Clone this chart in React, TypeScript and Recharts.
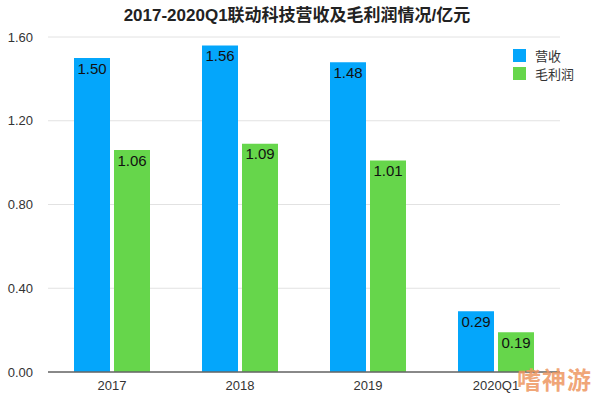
import { BarChart, Bar, XAxis, YAxis, CartesianGrid, LabelList } from "recharts";

const categories = ["2017", "2018", "2019", "2020Q1"];
const revenue = [1.5, 1.56, 1.48, 0.29];
const grossProfit = [1.06, 1.09, 1.01, 0.19];
const yTicks = [0, 0.4, 0.8, 1.2, 1.6];

const data = categories.map((name, i) => ({ name, revenue: revenue[i], profit: grossProfit[i] }));

const FONT = '"Liberation Sans", Arial, "Noto Sans CJK SC", sans-serif';
const BLUE = "#04a6fb";
const GREEN = "#66d64b";

const legendItems = [
  { label: "营收", color: BLUE },
  { label: "毛利润", color: GREEN },
];

function LegendBox() {
  return (
    <div style={{ position: "absolute", left: 513, top: 46, fontFamily: FONT, fontSize: 13, color: "#333" }}>
      {legendItems.map((it) => (
        <div key={it.label} style={{ display: "flex", alignItems: "center", height: 18 }}>
          <span style={{ width: 13, height: 13, background: it.color, display: "inline-block", marginRight: 9 }} />
          <span>{it.label}</span>
        </div>
      ))}
    </div>
  );
}

export default function App() {
  return (
    <div style={{ position: "absolute", left: 0, top: 0, width: 594, height: 397, background: "#fff", fontFamily: FONT }}>
      <div
        style={{
          position: "absolute",
          top: 1,
          left: 0,
          width: 594,
          textAlign: "center",
          fontSize: 17,
          fontWeight: "bold",
          color: "#222",
        }}
      >
        2017-2020Q1联动科技营收及毛利润情况/亿元
      </div>
      <BarChart
        width={594}
        height={397}
        data={data}
        margin={{ top: 37, right: 34, bottom: 0, left: 0 }}
        barCategoryGap={26}
        barGap={4}
      >
        <CartesianGrid vertical={false} stroke="#e2e2e2" />
        <XAxis
          dataKey="name"
          height={25}
          tickLine={false}
          tickSize={0}
          tickMargin={9}
          axisLine={{ stroke: "#666", strokeWidth: 1.5 }}
          tick={{ fill: "#333", fontSize: 13, fontFamily: FONT }}
        />
        <YAxis
          width={48}
          domain={[0, 1.6]}
          ticks={yTicks}
          axisLine={false}
          tickLine={false}
          tickSize={0}
          tickMargin={15}
          tickFormatter={(v: number) => v.toFixed(2)}
          tick={{ fill: "#333", fontSize: 13, fontFamily: FONT }}
        />
        <Bar dataKey="revenue" name="营收" fill={BLUE} isAnimationActive={false}>
          <LabelList
            dataKey="revenue"
            position="insideTop"
            offset={5}
            formatter={(v: number) => v.toFixed(2)}
            style={{ fill: "#111", fontSize: 15, fontFamily: FONT }}
          />
        </Bar>
        <Bar dataKey="profit" name="毛利润" fill={GREEN} isAnimationActive={false}>
          <LabelList
            dataKey="profit"
            position="insideTop"
            offset={5}
            formatter={(v: number) => v.toFixed(2)}
            style={{ fill: "#111", fontSize: 15, fontFamily: FONT }}
          />
        </Bar>
      </BarChart>
      <LegendBox />
      <div
        style={{
          position: "absolute",
          left: 517,
          top: 361,
          fontSize: 24,
          fontWeight: "bold",
          color: "rgba(238,150,95,0.85)",
          fontFamily: '"Noto Sans CJK SC", sans-serif',
          letterSpacing: 1,
        }}
      >
        嗜神游
      </div>
    </div>
  );
}
